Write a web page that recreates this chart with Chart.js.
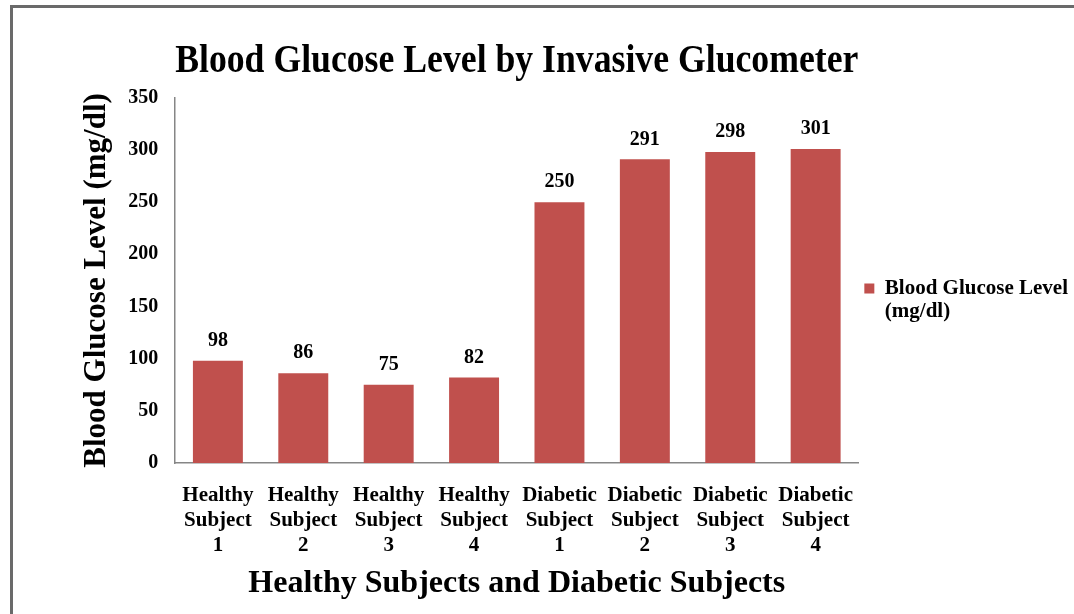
<!DOCTYPE html>
<html>
<head>
<meta charset="utf-8">
<script src="https://cdn.jsdelivr.net/npm/chart.js@4"></script>
<style>
  html, body { margin: 0; padding: 0; background: #fff; }
  #wrap { position: relative; width: 1074px; height: 614px; overflow: hidden; }
  #frame { position: absolute; left: 10px; top: 5px; width: 1080px; height: 620px;
           border-top: 3px solid #6a6a6a; border-left: 3px solid #6a6a6a; box-sizing: border-box; }
  #graphic { position: absolute; left: 0; top: 0; }
</style>
</head>
<body>
<div id="wrap">
  <div id="frame"></div>
  <canvas id="graphic" width="1074" height="614"></canvas>
</div>
<script>
const categories = [
  ['Healthy', 'Subject', '1'], ['Healthy', 'Subject', '2'], ['Healthy', 'Subject', '3'], ['Healthy', 'Subject', '4'],
  ['Diabetic', 'Subject', '1'], ['Diabetic', 'Subject', '2'], ['Diabetic', 'Subject', '3'], ['Diabetic', 'Subject', '4']
];
const glucose = [98, 86, 75, 82, 250, 291, 298, 301];
const yTicks = [0, 50, 100, 150, 200, 250, 300, 350];

const serif = "'Liberation Serif', 'DejaVu Serif', serif";
const barColor = '#C0504D';
const legendSize = 21;

// labels over the bars and second line of the legend
const extras = {
  id: 'extras',
  afterDatasetsDraw(chart) {
    const ctx = chart.ctx;
    const meta = chart.getDatasetMeta(0);
    ctx.save();
    ctx.font = 'bold 20px ' + serif;
    ctx.fillStyle = '#000';
    ctx.textAlign = 'center';
    ctx.textBaseline = 'middle';
    meta.data.forEach((bar, i) => {
      ctx.fillText(String(glucose[i]), bar.x, bar.y - 20);
    });
    ctx.restore();
  },
  afterDraw(chart) {
    const lg = chart.legend;
    if (!lg || !lg.legendHitBoxes.length) return;
    const hb = lg.legendHitBoxes[0];
    const ctx = chart.ctx;
    ctx.save();
    ctx.font = 'bold ' + legendSize + 'px ' + serif;
    ctx.fillStyle = '#000';
    ctx.textAlign = 'left';
    ctx.textBaseline = 'middle';
    ctx.fillText('(mg/dl)', hb.left + 10 + legendSize / 2, hb.top + hb.height / 2 + 23);
    ctx.restore();
  }
};

const graphicControler = new Chart(document.getElementById('graphic'), {
  type: 'bar',
  data: {
    labels: categories,
    datasets: [
      {
        label: 'Blood Glucose Level',
        data: glucose,
        backgroundColor: barColor,
        borderWidth: 0,
        barPercentage: 0.585,
        categoryPercentage: 1.0,
      },
    ],
  },
  options: {
    responsive: false,
    animation: false,
    devicePixelRatio: 1,
    layout: { padding: { left: 78, right: -4, top: 39, bottom: 11 } },
    plugins: {
      title: {
        display: true,
        fullSize: false,
        text: 'Blood Glucose Level by Invasive Glucometer',
        color: '#000',
        font: { family: serif, size: 39, weight: 'bold' },
        padding: { top: 0, bottom: 12 },
      },
      legend: {
        position: 'right',
        align: 'center',
        fullSize: false,
        title: { display: true, text: ' ', font: { size: 10 }, padding: 2 },
        labels: {
          color: '#000',
          font: { family: serif, size: legendSize, weight: 'bold' },
          boxWidth: 10,
          boxHeight: 10,
          padding: 6,
        },
      },
      tooltip: { enabled: false },
    },
    scales: {
      x: {
        grid: { display: false, drawTicks: false },
        border: { color: '#868686', width: 1.5 },
        ticks: {
          color: '#000',
          font: { family: serif, size: 21, weight: 'bold', lineHeight: 1.2 },
          padding: 20,
          maxRotation: 0,
        },
        title: {
          display: true,
          text: 'Healthy Subjects and Diabetic Subjects',
          color: '#000',
          font: { family: serif, size: 32, weight: 'bold' },
          padding: { top: -14, bottom: 0 },
        },
      },
      y: {
        min: 0,
        max: 350,
        afterBuildTicks(axis) { axis.ticks = yTicks.map(v => ({ value: v })); },
        grid: { display: false, drawTicks: false },
        border: { color: '#868686', width: 1.5 },
        ticks: {
          color: '#000',
          font: { family: serif, size: 20, weight: 'bold' },
          padding: 17,
        },
        title: {
          display: true,
          text: 'Blood Glucose Level (mg/dl)',
          color: '#000',
          font: { family: serif, size: 31, weight: 'bold' },
          padding: { top: 0, bottom: -4 },
        },
      },
    },
  },
  plugins: [extras],
});
</script>
</body>
</html>
